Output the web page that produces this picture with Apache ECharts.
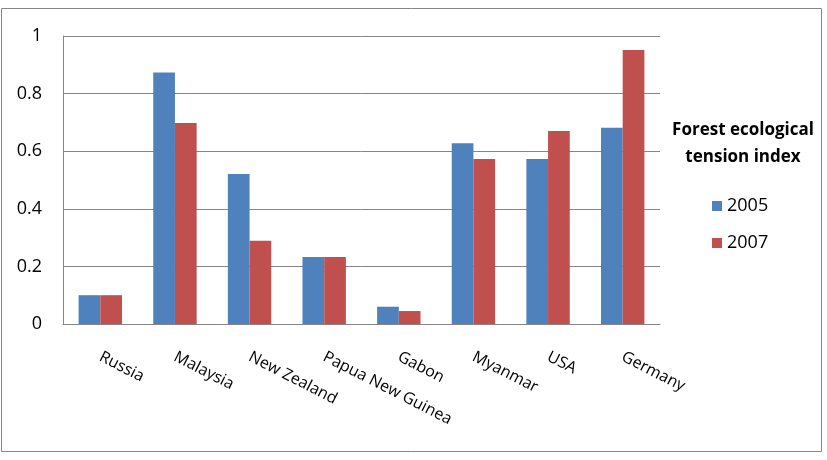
<!DOCTYPE html>
<html>
<head>
<meta charset="UTF-8">
<title>Forest ecological tension index</title>
<script type="text/javascript" src="https://cdn.jsdelivr.net/npm/echarts@6/dist/echarts.min.js"></script>
<style>
  body { margin:0; background:#fff; }
</style>
</head>
<body>
<div id="main" style="width:827px;height:460px"></div>

<script type="text/javascript">
	// data
	var countries=['Russia','Malaysia','New Zealand','Papua New Guinea','Gabon','Myanmar','USA','Germany'];
	var years=['2005','2007'];
	var values2005=[0.1,0.873,0.521,0.233,0.06,0.628,0.573,0.681];
	var values2007=[0.1,0.698,0.289,0.233,0.045,0.573,0.67,0.951];
	var yTicks=[0,0.2,0.4,0.6,0.8,1];

	var font='"Open Sans", sans-serif';
	var mychart=echarts.init(document.getElementById("main"));
	var option={
		animation:false,
		backgroundColor:'#fff',
		title:{
			text:'Forest ecological\ntension index',
			left:738,
			top:112,
			textAlign:'center',
			textStyle:{fontFamily:font,fontSize:17,fontWeight:'bold',color:'#000',lineHeight:27}
		},
		legend:{
			data:years,
			orient:'vertical',
			left:707,
			top:192,
			icon:'rect',
			itemWidth:10,
			itemHeight:10,
			itemGap:19,
			textStyle:{fontFamily:font,fontSize:18,color:'#000'}
		},
		grid:{left:63,right:167,top:36,bottom:136,containLabel:false},
		xAxis:{
			type:'category',
			data:countries,
			axisTick:{show:false},
			axisLine:{lineStyle:{color:'#868686',width:1}},
			axisLabel:{
				rotate:-27,
				margin:32,
				interval:0,
				fontFamily:font,
				fontSize:16,
				color:'#000'
			}
		},
		yAxis:{
			type:'value',
			min:0,
			max:1,
			interval:0.2,
			axisLine:{show:true,lineStyle:{color:'#868686',width:1}},
			axisTick:{show:false},
			splitLine:{lineStyle:{color:'#868686',width:1}},
			axisLabel:{
				margin:21,
				fontFamily:font,
				fontSize:18,
				color:'#000',
				formatter:function(v){
					return yTicks.indexOf(v)>=0?String(v):'';
				}
			}
		},
		series:[{
			name:'2005',
			type:'bar',
			data:values2005,
			barWidth:21.7,
			barGap:'0%',
			itemStyle:{color:'#4F81BD'}
		},{
			name:'2007',
			type:'bar',
			data:values2007,
			barWidth:21.7,
			itemStyle:{color:'#C0504D'}
		}],
		graphic:[{
			type:'rect',
			shape:{x:1.5,y:8.5,width:820,height:443},
			style:{fill:null,stroke:'#868686',lineWidth:1},
			silent:true
		}]
	};
	mychart.setOption(option);
</script>
</body>
</html>
